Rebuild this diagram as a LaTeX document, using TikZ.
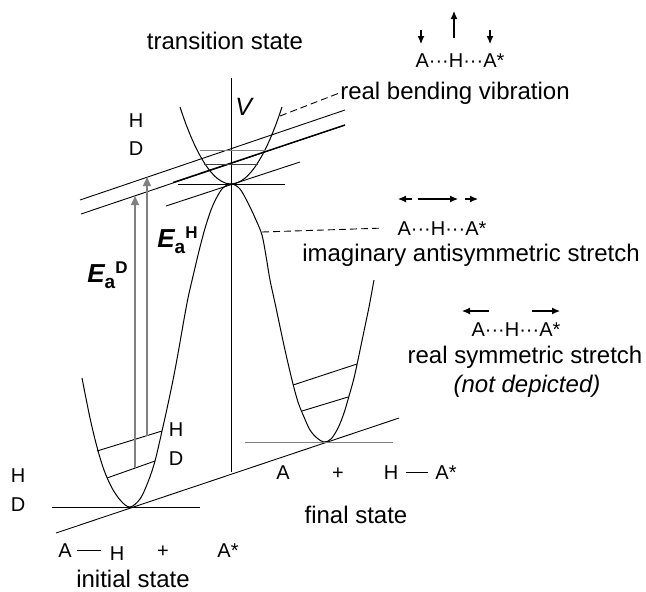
\documentclass[tikz,border=0pt]{standalone}
\usepackage{fontspec}
\setmainfont{Liberation Sans}
\usetikzlibrary{
    arrows.meta,
    positioning,
    calc
}
% activation energy symbol pieces
\newcommand{\eaE}[1]{{\fontsize{13}{15}\selectfont\bfseries\itshape #1}}
\newcommand{\eaSub}[1]{\raisebox{-3pt}{\fontsize{9.5}{11}\selectfont\bfseries #1}}
\newcommand{\eaSup}[1]{\raisebox{4.5pt}{\fontsize{8.5}{10}\selectfont\bfseries #1}}
\tikzset{
    % --- potential energy curve ---
    pes curve/.style = {
        line width=0.5pt
    },
    % --- vibrational / reference level ---
    vib level/.style = {
        line width=0.45pt
    },
    % --- lighter reference level ---
    grey level/.style = {
        vib level, draw=black!50
    },
    % --- activation energy arrow ---
    ea arrow/.style = {
        -{Triangle[length=4.5pt,width=4pt]},
        line width=0.65pt, draw=black!50, fill=black!50
    },
    % --- displacement arrow over a mode ---
    vib arrow/.style = {
        -{Latex[length=4pt,width=3.5pt]}, line width=0.55pt
    },
    % --- dashed pointer to a mode ---
    pointer/.style = {
        dash pattern=on 3.5pt off 2pt, line width=0.45pt
    },
    % --- chemical bond in a formula ---
    bond/.style = {
        line width=0.55pt
    },
    % --- mode / state text ---
    label text/.style = {
        font=\fontsize{12}{14}\selectfont, inner sep=0pt
    },
    % --- atom letters ---
    atom/.style = {
        font=\fontsize{10}{12}\selectfont, inner sep=0pt
    }
}

\begin{document}
\begin{tikzpicture}[x=0.5pt, y=-0.5pt]
\useasboundingbox (0,0) rectangle (646,591);

% ---------------------------------------------------------
% Reference points
% ---------------------------------------------------------
\coordinate (ts) at (231,184);
\coordinate (axTop) at (231,78);
\coordinate (axBot) at (231,472);
\coordinate (bendPt) at (280,116);
\coordinate (antiPt) at (262,232);

% ---------------------------------------------------------
% Potential energy curves
% ---------------------------------------------------------
\draw[pes curve] plot[smooth, tension=0.55] coordinates {
    (82,378) (90,418) (97,447) (104,470) (112,488) (121,501) (130,507)
    (140,499) (148,482) (155,461) (162,431) (168,404) (174,375) (179,348)
    (183,325) (188,298) (194,272) (200,247) (206,225) (213,205) (222,189)
    (231,184)
    (240,189) (249,205) (256,220) (262,235) (266,256) (270,280) (275,303)
    (279,322) (285,350) (292,380) (298,402) (304,417) (310,430) (317,438)
    (324,442) (331,439) (338,428) (344,413) (349,396) (354,378) (359,355)
    (364,331) (369,307) (374,280)
};
\draw[pes curve] (180,107) parabola bend (ts) (282,107);

% vertical axis through the transition state
\draw[vib level] (axTop) -- (axBot);

% ---------------------------------------------------------
% Levels
% ---------------------------------------------------------
\draw[vib level] (56,533) -- (399,418);
\draw[vib level] (166,206) -- (300,162);
\draw[vib level] (80,200) -- (345,110);
\draw[vib level] (81,214) -- (345,125);
\draw[line width=0.7pt] (173,182.5) -- (345,125);

\draw[vib level] (52,507) -- (200,507);
\draw[grey level] (245,442) -- (393,442);
\draw[vib level] (178,184) -- (285,184);
\draw[grey level] (200,150) -- (265,150);
\draw[vib level, draw=black!75] (204,164) -- (258,164);

% zero point levels in the wells
\draw[vib level] (97,451) -- (162,431);
\draw[vib level] (107,478) -- (155,461);
\draw[vib level] (293,385) -- (357,364);
\draw[vib level] (302,411) -- (348,397);

% ---------------------------------------------------------
% Activation energies
% ---------------------------------------------------------
\coordinate (eaHlow) at (147,436);
\coordinate (eaHtop) at (147,177);
\coordinate (eaDlow) at (135,468);
\coordinate (eaDtop) at (135,196);
\draw[ea arrow] (eaHlow) -- (eaHtop);
\draw[ea arrow] (eaDlow) -- (eaDtop);

\node[anchor=base west, inner sep=0pt] (eaH) at (157,247) {\eaE{E}\eaSub{a}\eaSup{H}};
\node[anchor=base west, inner sep=0pt] (eaD) at (87,282) {\eaE{E}\eaSub{a}\eaSup{D}};
\node[anchor=base west, inner sep=0pt, font=\fontsize{12.5}{14}\selectfont\itshape] (vLab) at (235,115) {V};

% ---------------------------------------------------------
% Isotope labels
% ---------------------------------------------------------
\node[atom, anchor=base] (tsH) at (136,127) {H};
\node[atom, anchor=base] (tsD) at (136,155) {D};
\node[atom, anchor=base] (zpH) at (18,482) {H};
\node[atom, anchor=base] (zpD) at (18,511) {D};
\node[atom, anchor=base] (iwH) at (176,436) {H};
\node[atom, anchor=base] (iwD) at (176,465) {D};

% ---------------------------------------------------------
% States
% ---------------------------------------------------------
\node[label text, anchor=base] (tsName) at (225,49) {transition state};
\node[label text, anchor=base] (finName) at (356,523) {final state};
\node[label text, anchor=base] (iniName) at (133,587) {initial state};

% initial state formula
\node[atom, anchor=base] (iA) at (65,557) {A};
\node[atom, anchor=base] (iH) at (117,560) {H};
\node[atom, anchor=base] (iPlus) at (163,557) {+};
\node[atom, anchor=base] (iAst) at (228,557) {A*};
\draw[bond, shorten <=2.5pt, shorten >=4pt] (iA.east) -- (iA.east -| iH.west);

% final state formula
\node[atom, anchor=base] (fA) at (283,479) {A};
\node[atom, anchor=base] (fPlus) at (338,479) {+};
\node[atom, anchor=base] (fH) at (391,479) {H};
\node[atom, anchor=base] (fAst) at (446,479) {A*};
\draw[bond, shorten <=3.5pt, shorten >=3.3pt] (fH.east) -- (fH.east -| fAst.west);

% ---------------------------------------------------------
% Vibrational modes of the transition state
% ---------------------------------------------------------
\node[atom, anchor=base] (bend) at (460,67) {A···H···A*};
\node[label text, anchor=base] (bendName) at (455,99) {real bending vibration};
\draw[vib arrow] ($(bend.base)+(-39,-37)$) -- ++(0,14);
\draw[vib arrow] ($(bend.base)+(-6,-29)$) -- ++(0,-27);
\draw[vib arrow] ($(bend.base)+(30,-37)$) -- ++(0,14);
\draw[pointer] (bendPt) -- (bendName.west);

\node[atom, anchor=base] (anti) at (442,235) {A···H···A*};
\node[label text, anchor=base] (antiName) at (471,261) {imaginary antisymmetric stretch};
\draw[vib arrow] ($(anti.base)+(-30,-36)$) -- ++(-14,0);
\draw[vib arrow] ($(anti.base)+(-24,-36)$) -- ++(40,0);
\draw[vib arrow] ($(anti.base)+(23,-36)$) -- ++(13,0);
\draw[pointer] (antiPt) -- ($(anti.west)+(-16,0)$);

\node[atom, anchor=base] (sym) at (516,336) {A···H···A*};
\node[label text, anchor=base] (symName) at (525,363) {real symmetric stretch};
\node[label text, anchor=base, font=\fontsize{12}{14}\selectfont\itshape] (notDep) at (527,392) {(not depicted)};
\draw[vib arrow] ($(sym.base)+(-27,-25)$) -- ++(-27,0);
\draw[vib arrow] ($(sym.base)+(16,-25)$) -- ++(28,0);

\end{tikzpicture}
\end{document}
